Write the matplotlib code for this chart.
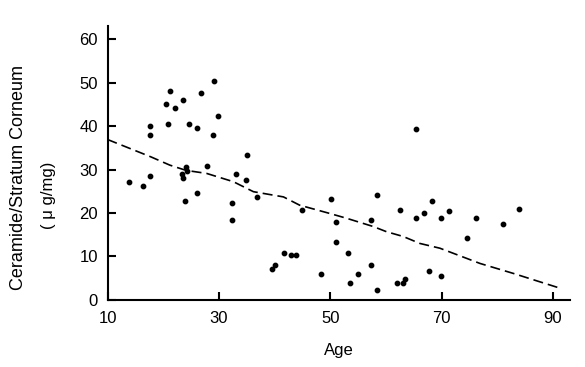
import matplotlib
matplotlib.use('Agg')
import matplotlib.pyplot as plt

# Datos
ages = [13.8, 16.3, 17.7, 17.7, 17.7, 20.5, 20.8, 21.2, 22.2, 23.6, 24.7, 26.0,
        26.8, 29.2, 29.9, 28.9, 27.8, 26.0, 24.0, 23.3, 23.6, 24.3, 24.1,
        32.4, 32.4, 33.0, 35.1, 34.8, 36.8, 39.6, 40.0, 41.7, 42.9, 43.8,
        44.9, 48.4, 50.1, 51.1, 51.1, 53.2, 53.6, 55.0, 57.4, 57.4, 58.4, 58.4,
        62.0, 62.6, 63.1, 63.4, 65.4, 65.4, 66.8, 67.8, 68.3, 69.9, 69.9, 71.4,
        74.5, 76.2, 81.1, 83.9]
ceramide = [27.2, 26.3, 40.1, 37.9, 28.5, 45.0, 40.5, 48.1, 44.1, 45.9, 40.5, 39.6,
            47.7, 50.3, 42.4, 37.9, 30.7, 24.6, 22.7, 29.0, 28.0, 29.7, 30.6,
            22.3, 18.3, 29.0, 33.4, 27.7, 23.7, 7.1, 8.0, 10.7, 10.3, 10.3,
            20.6, 5.9, 23.2, 17.9, 13.3, 10.7, 4.0, 5.9, 18.3, 8.0, 24.1, 2.2,
            4.0, 20.6, 4.0, 4.9, 39.2, 18.8, 20.1, 6.7, 22.8, 18.8, 5.4, 20.5,
            14.3, 18.8, 17.4, 21.0]

# Linea de tendencia (discontinua)
trend_age = [10, 17.8, 21.2, 24.1, 27.8, 32.6, 36.2, 41.6, 44.5, 49.9, 52.9,
             57.7, 60.1, 63.1, 66.1, 69.7, 76.9, 82.9, 91.3]
trend_val = [36.9, 32.9, 31.0, 29.8, 29.1, 27.2, 24.9, 23.7, 21.8, 19.9, 18.8,
             16.9, 15.7, 14.6, 13.0, 11.9, 8.4, 6.1, 2.7]

plt.rcParams['font.family'] = ['Liberation Sans', 'DejaVu Sans']

fig = plt.figure(figsize=(5.85, 3.67), dpi=100)
ax = fig.add_axes([0.1838, 0.1826, 0.790, 0.7466])

ax.scatter(ages, ceramide, s=10, color='black', zorder=3)
ax.plot(trend_age, trend_val, color='black', lw=1.2, dashes=(6, 3))

ax.set_xlim(10, 93)
ax.set_ylim(0, 63)
ax.set_xticks([10, 30, 50, 70, 90])
ax.set_yticks([0, 10, 20, 30, 40, 50, 60])

for s in ['top', 'right']:
    ax.spines[s].set_visible(False)
for s in ['left', 'bottom']:
    ax.spines[s].set_linewidth(1.5)

ax.tick_params(direction='in', length=5.5, width=1.5, labelsize=12)
ax.tick_params(axis='x', pad=8)
ax.tick_params(axis='y', pad=7)

ax.set_xlabel('Age', fontsize=12, labelpad=12)

# Etiqueta del eje y en dos lineas
fig.text(18.5 / 585, 1 - 177.5 / 367, 'Ceramide/Stratum Corneum', rotation=90,
         ha='center', va='center', fontsize=13)
fig.text(48 / 585, 1 - 195 / 367, '( μ g/mg)', rotation=90,
         ha='center', va='center', fontsize=12)

fig.savefig('out.png', dpi=100)
